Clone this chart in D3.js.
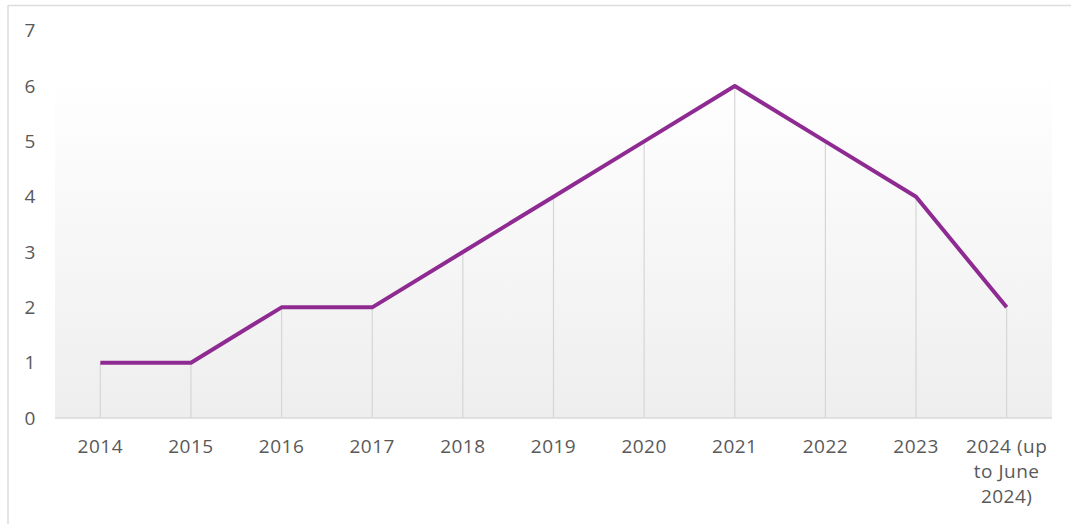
<!DOCTYPE html>
<html>
<head>
<meta charset="utf-8">
<script src="https://cdn.jsdelivr.net/npm/d3@7"></script>
<style>
  body { margin: 0; background: #fff; }
  text { font-family: "Open Sans", "Noto Sans", sans-serif; }
</style>
</head>
<body>
<div id="main"></div>
<script>
const years = ["2014", "2015", "2016", "2017", "2018", "2019", "2020", "2021", "2022", "2023", "2024 (up to June 2024)"];
const counts = [1, 1, 2, 2, 3, 4, 5, 6, 5, 4, 2];
const yTicks = [0, 1, 2, 3, 4, 5, 6, 7];

const w = 1071, h = 524;
const padL = 55, padR = 1052, padT = 30.7, padB = 418;

const svg = d3.select("#main").append("svg")
  .attr("width", w).attr("height", h);

// outer frame (top and left edges only visible)
svg.append("line").attr("x1", 8).attr("x2", w).attr("y1", 5.5).attr("y2", 5.5)
  .attr("stroke", "#dcdcdc").attr("stroke-width", 1.5);
svg.append("line").attr("x1", 8).attr("x2", 8).attr("y1", 5).attr("y2", h)
  .attr("stroke", "#dcdcdc").attr("stroke-width", 1.5);

const xScale = d3.scaleBand().domain(years).range([padL, padR]);
const yScale = d3.scaleLinear().domain([0, 7]).range([padB, padT]);

// plot-area gradient
const grad = svg.append("defs").append("linearGradient")
  .attr("id", "bg").attr("x1", 0).attr("x2", 0).attr("y1", 0).attr("y2", 1);
grad.append("stop").attr("offset", "0%").attr("stop-color", "#ffffff");
grad.append("stop").attr("offset", "100%").attr("stop-color", "#eeeeee");

svg.append("rect")
  .attr("x", padL).attr("y", 73)
  .attr("width", padR - padL).attr("height", padB - 73)
  .attr("fill", "url(#bg)");

const cx = d => xScale(d) + xScale.bandwidth() / 2;

// drop lines
svg.selectAll(".drop")
  .data(years)
  .enter().append("line")
  .attr("class", "drop")
  .attr("x1", d => cx(d)).attr("x2", d => cx(d))
  .attr("y1", (d, i) => yScale(counts[i]))
  .attr("y2", yScale(0))
  .attr("stroke", "#d6d6d6").attr("stroke-width", 1.2);

// baseline
svg.append("line")
  .attr("x1", padL).attr("x2", padR)
  .attr("y1", yScale(0)).attr("y2", yScale(0))
  .attr("stroke", "#d9d9d9").attr("stroke-width", 1.5);

// y labels
svg.selectAll(".ylab")
  .data(yTicks)
  .enter().append("text")
  .attr("class", "ylab")
  .attr("x", 30).attr("y", d => yScale(d))
  .attr("dy", "0.35em")
  .attr("text-anchor", "middle")
  .attr("fill", "#595959")
  .style("font-size", "19px")
  .text(d => d);

// x labels (wrap the long one)
const xLines = {"2024 (up to June 2024)": ["2024 (up", "to June", "2024)"]};
svg.selectAll(".xlab")
  .data(years)
  .enter().append("text")
  .attr("class", "xlab")
  .attr("x", d => cx(d))
  .attr("y", 446)
  .attr("text-anchor", "middle")
  .attr("fill", "#595959")
  .style("font-size", "19px")
  .style("letter-spacing", "0.5px")
  .each(function(d) {
    const lines = xLines[d] || [d];
    d3.select(this).selectAll("tspan")
      .data(lines)
      .enter().append("tspan")
      .attr("x", cx(d))
      .attr("dy", (l, i) => i === 0 ? "0.35em" : "25px")
      .text(l => l);
  });

// line
const line = d3.line()
  .x((d, i) => cx(years[i]))
  .y(d => yScale(d));

svg.append("path")
  .datum(counts)
  .attr("d", line)
  .attr("fill", "none")
  .attr("stroke", "#8e2a91")
  .attr("stroke-width", 4)
  .attr("stroke-linejoin", "round");
</script>
</body>
</html>
